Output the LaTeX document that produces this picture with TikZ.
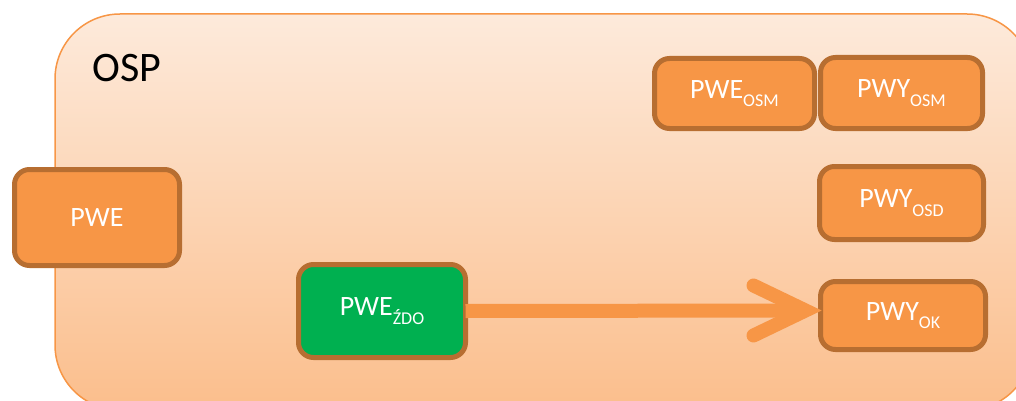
\documentclass[tikz,border=0pt]{standalone}
\usepackage{fontspec}
\setmainfont{Carlito}
\usetikzlibrary{calc}
\definecolor{bgtop}{RGB}{253,234,219}
\definecolor{bgbot}{RGB}{251,190,140}
\definecolor{bgline}{RGB}{247,150,70}
\definecolor{boxfill}{RGB}{247,150,70}
\definecolor{boxline}{RGB}{183,110,49}
\definecolor{greenfill}{RGB}{0,176,80}
\newcommand\lsub[1]{\raisebox{-0.3em}{\fontsize{18}{18}\selectfont #1}}
\tikzset{
  pbox/.style={draw=boxline, fill=boxfill, line width=5pt, rounded corners=15pt,
    text=white, font=\fontsize{28}{28}\selectfont, inner sep=0pt, outer sep=0pt},
  gbox/.style={pbox, fill=greenfill},
  flow/.style={draw=bgline, line width=14pt}
}
\begin{document}
\begin{tikzpicture}[x=1pt,y=-1pt]
\useasboundingbox (0,0) rectangle (1016,401);
\begin{scope}
\clip (0,0) rectangle (1016,401);
\shade[top color=bgtop, bottom color=bgbot, draw=bgline, line width=1.5pt, rounded corners=65pt]
  (55,14) rectangle (1032,410);
\end{scope}
\node[anchor=base west, font=\fontsize{42}{42}\selectfont] (osp) at (89,82) {OSP};
\node[pbox, minimum width=165pt, minimum height=96pt] (pwe) at (97,217.5) {PWE};
\node[pbox, minimum width=160pt, minimum height=70pt] (pweosm) at (734.5,93.5) {PWE\lsub{OSM}};
\node[pbox, minimum width=162pt, minimum height=71pt] (pwyosm) at (901.5,93) {PWY\lsub{OSM}};
\node[pbox, minimum width=164pt, minimum height=73pt] (pwyosd) at (901.5,203) {PWY\lsub{OSD}};
\node[pbox, minimum width=165pt, minimum height=68pt] (pwyok) at (903,315.5) {PWY\lsub{OK}};
\node[gbox, minimum width=167pt, minimum height=93pt] (pwezdo) at (382,311) {PWE\lsub{ŹDO}};
\coordinate (tip) at ($(pwyok.west)+(-15,-5)$);
\coordinate (arma) at ($(tip)+(-52,-25)$);
\coordinate (armb) at ($(tip)+(-52,25)$);
\draw[flow] (pwezdo.east) -- (tip);
\draw[flow, line cap=round, line join=miter] (arma) -- (tip) -- (armb);
\end{tikzpicture}
\end{document}
